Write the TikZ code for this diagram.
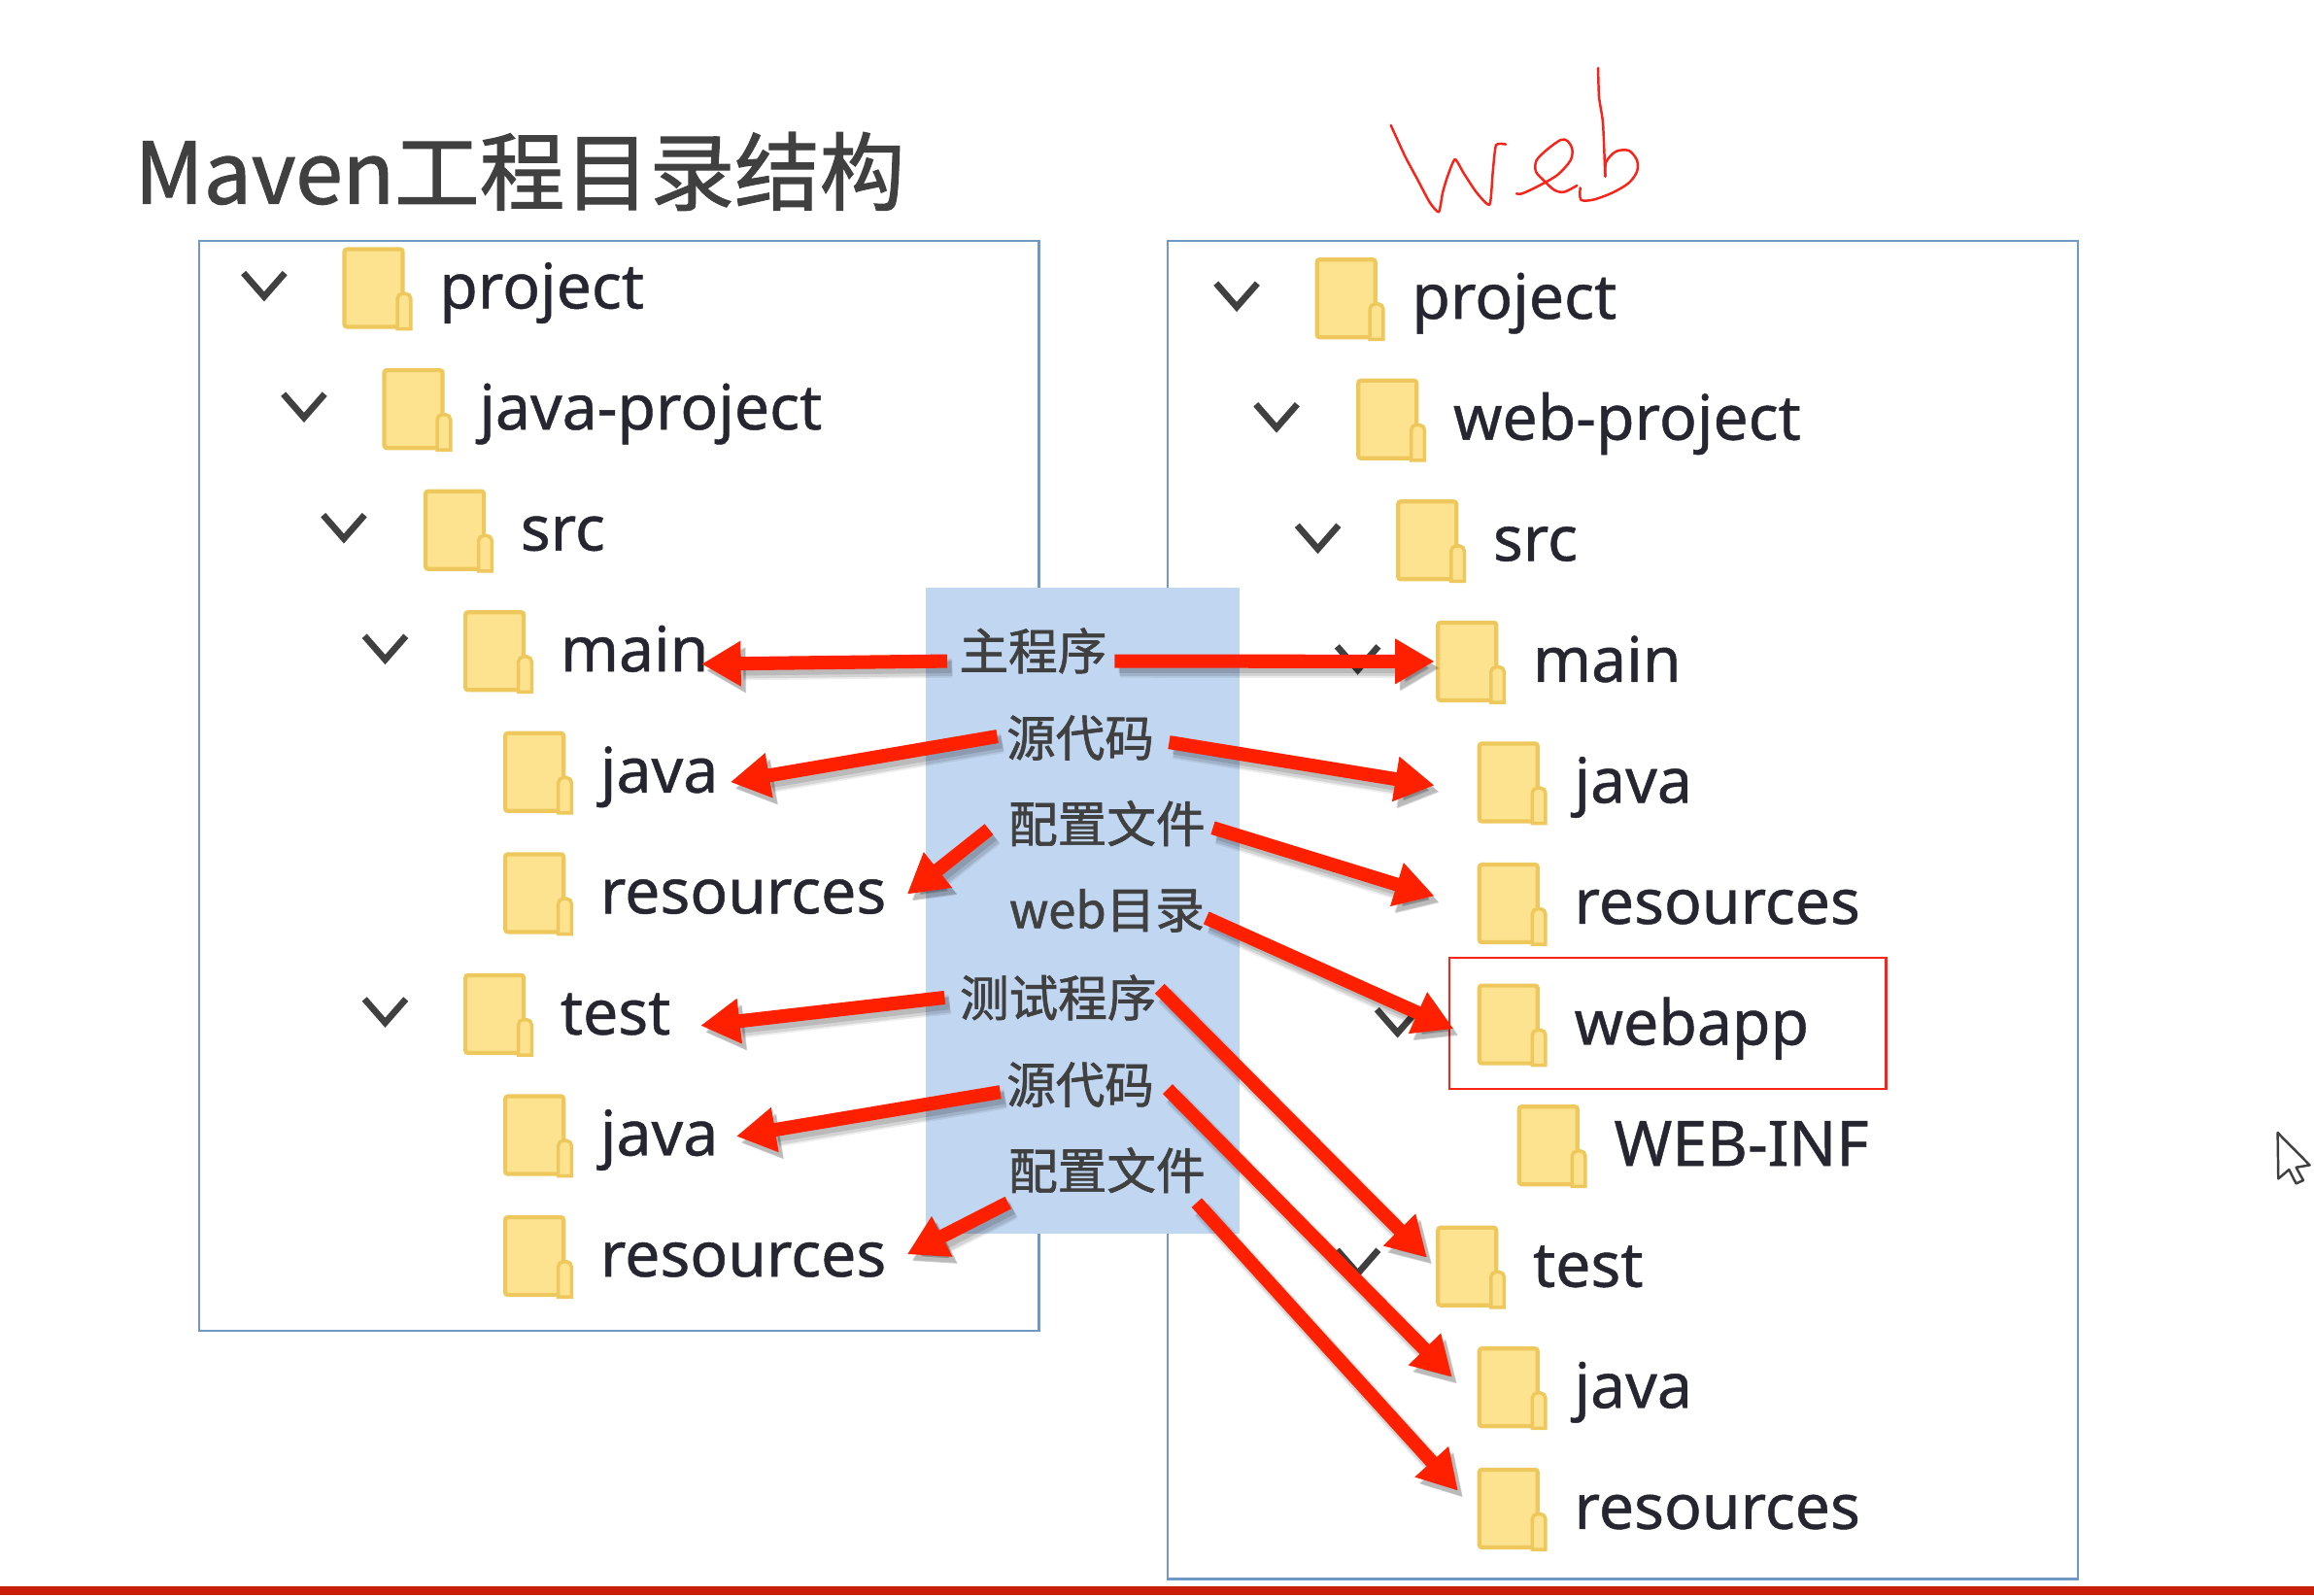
\documentclass[tikz,border=0pt]{standalone}
\usepackage{fontspec}
\usetikzlibrary{arrows.meta}
\setmainfont{Noto Sans}[FakeBold=0.7]
\newfontfamily\cjkFont{Noto Sans CJK SC}[FakeBold=1.3]
\definecolor{panelBlue}{RGB}{112, 152, 196}
\definecolor{bandBlue}{RGB}{193, 214, 240}
\definecolor{folderFill}{RGB}{253, 226, 143}
\definecolor{folderEdge}{RGB}{238, 200, 92}
\definecolor{inkGray}{RGB}{64, 64, 64}
\definecolor{treeInk}{RGB}{38, 38, 48}
\definecolor{arrowRed}{RGB}{255, 32, 0}
\definecolor{boxRed}{RGB}{250, 35, 25}
\definecolor{barRed}{RGB}{200, 30, 10}
\tikzset{
  panel/.style={draw=panelBlue, line width=1.2pt},
  folderBody/.style={draw=folderEdge, fill=folderFill, line width=2.4pt, rounded corners=1.5pt, anchor=north west, inner sep=0pt, minimum width=1.2cm, minimum height=1.6cm},
  folderTab/.style={draw=folderEdge, fill=folderFill, line width=2pt},
  treeText/.style={anchor=base west, inner sep=0pt, text=treeInk, font=\fontsize{36.6}{40}\selectfont},
  chevron/.style={draw=inkGray, line width=3.8pt},
  sideLabel/.style={inner sep=0pt, text=inkGray, font=\cjkFont\fontsize{28.8}{32}\selectfont},
  redArrow/.style={-{Triangle[length=23pt,width=25pt]}, draw=arrowRed, line width=8pt,
    preaction={draw=black, opacity=0.07, line width=11.5pt, transform canvas={xshift=3pt,yshift=-4pt}},
    preaction={draw=black, opacity=0.1, line width=9.5pt, transform canvas={xshift=3pt,yshift=-4pt}},
    preaction={draw=black, opacity=0.12, line width=7pt, transform canvas={xshift=2.5pt,yshift=-3.5pt}}},
  handInk/.style={draw=boxRed, line width=1.4pt, line join=round, line cap=round},
}
% folder + name, given the top left corner of the folder
\newcommand{\treeRow}[4]{
  \node[folderBody] (fld#1) at (#2,#3-0.5) {};
  \draw[folderTab] ([shift={(-5,0)}]fld#1.south east) [rounded corners=3pt] -- ++(0,-24) -- ++(9,0) [sharp corners] -- ++(0,24) -- cycle;
  \node[treeText] (txt#1) at (#2+65.5,#3+41) {#4};
}
\newcommand{\treeChevron}[2]{
  \draw[chevron] (#1-14,#2-8) -- (#1,#2+8) -- (#1+14,#2-8);
}
\begin{document}
\begin{tikzpicture}[x=0.03038cm, y=-0.03038cm]
  \useasboundingbox (0,0) rectangle (1568,1081);
  \fill[white] (0,0) rectangle (1568,1081);
  \fill[barRed] (0,1075) rectangle (1568,1081);

  \node[anchor=base west, inner sep=0pt, text=inkGray, font=\cjkFont\fontsize{49.8}{54}\selectfont] (title) at (91,138) {Maven工程目录结构};

  % left tree
  \draw[panel] (135,163) rectangle (704,902);
  \treeRow{ProjL}{232}{168}{project}
  \treeRow{JavaProj}{259}{250}{java-project}
  \treeRow{SrcL}{287}{332}{src}
  \treeRow{MainL}{314}{414}{main}
  \treeRow{JavaL}{341}{496}{java}
  \treeRow{ResL}{341}{578}{resources}
  \treeRow{TestL}{314}{660}{test}
  \treeRow{JavaTL}{341}{742}{java}
  \treeRow{ResTL}{341}{824}{resources}
  \treeChevron{179}{193}
  \treeChevron{206}{275}
  \treeChevron{233}{357}
  \treeChevron{261}{439}
  \treeChevron{261}{685}

  % right tree
  \draw[panel] (791,163) rectangle (1408,1070);
  \treeRow{ProjR}{891}{175}{project}
  \treeRow{WebProj}{919}{257}{web-project}
  \treeRow{SrcR}{946}{339}{src}
  \treeRow{MainR}{973}{421}{main}
  \treeRow{JavaR}{1001}{503}{java}
  \treeRow{ResR}{1001}{585}{resources}
  \treeRow{Webapp}{1001}{667}{webapp}
  \treeRow{WebInf}{1028}{749}{WEB-INF}
  \treeRow{TestR}{973}{831}{test}
  \treeRow{JavaTR}{1001}{913}{java}
  \treeRow{ResTR}{1001}{995}{resources}
  \treeChevron{838}{200}
  \treeChevron{865}{282}
  \treeChevron{893}{364}
  \treeChevron{920}{446}
  \treeChevron{947}{692}
  \treeChevron{920}{855}
  \draw[boxRed, line width=1.2pt] (982,649) rectangle (1278,738);

  % middle band
  \fill[bandBlue] (627,398) rectangle (840,836);
  \node[sideLabel] (lblMain) at (700,441) {主程序};
  \node[sideLabel] (lblSrc) at (732,500) {源代码};
  \node[sideLabel] (lblConf) at (750,558) {配置文件};
  \node[sideLabel] (lblWeb) at (750,617) {web目录};
  \node[sideLabel] (lblTest) at (717,676) {测试程序};
  \node[sideLabel] (lblSrcT) at (732,735) {源代码};
  \node[sideLabel] (lblConfT) at (750,793) {配置文件};

  % arrows to the left tree
  \draw[redArrow] ([shift={(-8,7)}]lblMain.west) -- ([shift={(-5,-5)}]txtMainL.base east);
  \draw[redArrow] ([shift={(-6,-1)}]lblSrc.west) -- ([shift={(8,-7)}]txtJavaL.base east);
  \draw[redArrow] ([shift={(-13,4)}]lblConf.west) -- ([shift={(14,-13)}]txtResL.base east);
  \draw[redArrow] ([shift={(-10,0)}]lblTest.west) -- ([shift={(20,-6)}]txtTestL.base east);
  \draw[redArrow] ([shift={(-4,5)}]lblSrcT.west) -- ([shift={(12,-13)}]txtJavaTL.base east);
  \draw[redArrow] ([shift={(0,22)}]lblConfT.west) -- ([shift={(14,-15)}]txtResTL.base east);

  % arrows to the right tree
  \draw[redArrow] ([shift={(5,7)}]lblMain.east) -- ([shift={(-1,0)}]fldMainR.west);
  \draw[redArrow] ([shift={(10,3)}]lblSrc.east) -- ([shift={(-29,2)}]fldJavaR.west);
  \draw[redArrow] ([shift={(5,3)}]lblConf.east) -- ([shift={(-29,-5)}]fldResR.west);
  \draw[redArrow] ([shift={(1,5)}]lblWeb.east) -- ([shift={(-16,3)}]fldWebapp.west);
  \draw[redArrow] ([shift={(2,-6)}]lblTest.east) -- ([shift={(-6,-6)}]fldTestR.west);
  \draw[redArrow] ([shift={(9,3)}]lblSrcT.east) -- ([shift={(-17,-7)}]fldJavaTR.west);
  \draw[redArrow] ([shift={(-6,22)}]lblConfT.east) -- ([shift={(-13,-12)}]fldResTR.west);

  % handwritten note
  \begin{scope}[shift={(888.7,32.9)}, scale=0.2194]
    \draw[handInk] plot[smooth, tension=0.35] coordinates {(245,237) (290,335) (325,400) (365,475) (393,505) (405,445) (420,395) (443,342) (470,385) (510,445) (550,482) (560,380) (570,298) (600,296)};
    \draw[handInk] plot[smooth, tension=0.5] coordinates {(633,448) (650,448) (700,425) (760,390) (800,345) (805,310) (790,285) (770,282) (730,310) (695,345) (693,380) (720,410) (750,437) (780,443) (820,423)};
    \draw[handInk] plot[smooth, tension=0.35] coordinates {(885,60) (888,150) (900,230) (907,395)};
    \draw[handInk] plot[smooth, tension=0.5] coordinates {(907,395) (910,350) (940,318) (980,315) (1005,345) (1005,380) (980,415) (930,445) (870,467) (832,467) (830,430)};
  \end{scope}

  % mouse pointer
  \begin{scope}[shift={(1514.2,743.9)}, scale=0.2194]
    \draw[draw=inkGray, fill=white, line width=1.4pt, line join=round] (133,108) -- (232,208) -- (190,215) -- (212,255) -- (190,265) -- (168,222) -- (135,250) -- cycle;
  \end{scope}
\end{tikzpicture}
\end{document}
